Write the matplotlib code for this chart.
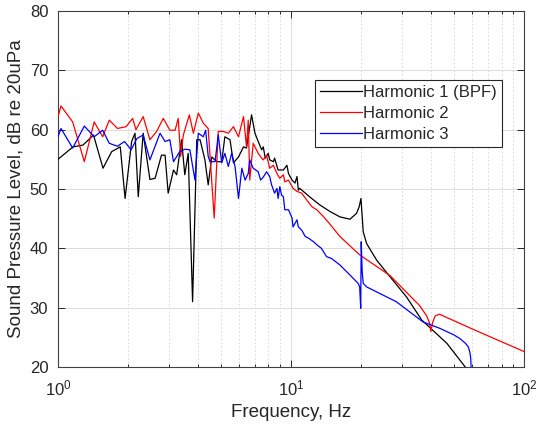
import matplotlib

matplotlib.use("Agg")
import matplotlib.pyplot as plt
from matplotlib.ticker import LogLocator, NullFormatter, MultipleLocator

OUT = "out.png"

# Harmonic 1 (BPF)
F_H1 = [1.0, 1.16, 1.28, 1.42, 1.56, 1.70, 1.85, 1.94, 2.07, 2.14, 2.21, 2.32,
        2.48, 2.61, 2.78, 2.88, 2.97, 3.13, 3.23, 3.39, 3.50, 3.62, 3.78, 3.94,
        4.07, 4.27, 4.41, 4.57, 4.80, 5.04, 5.20, 5.47, 5.66, 5.95, 6.25, 6.44,
        6.77, 7.0, 7.23, 7.48, 7.6, 7.75, 7.98, 8.1, 8.4, 8.5, 8.8, 9.27, 9.6,
        9.75, 10.1, 10.4, 10.6, 10.75, 10.9, 12.0, 13.3, 14.7, 16.2, 17.9, 19.1,
        19.6, 19.95, 20.2, 20.4, 21.1, 23.3, 26.6, 31.3, 36.4, 46.6, 55.9, 60.0]
DB_H1 = [55.0, 57.1, 57.4, 59.1, 53.5, 56.3, 57.1, 48.4, 58.0, 59.4, 48.7, 59.4,
         51.6, 51.8, 55.7, 55.7, 49.3, 53.2, 52.4, 58.3, 52.4, 56.0, 31.0, 58.3,
         58.3, 54.9, 50.7, 55.4, 54.6, 54.6, 58.8, 58.3, 54.4, 55.4, 57.1, 56.9,
         62.5, 59.4, 58.0, 56.6, 57.1, 55.2, 56.0, 54.9, 54.6, 55.2, 53.2, 53.2, 54.0,
         52.6, 51.5, 51.0, 52.1, 49.8, 50.1, 48.7, 47.3, 46.2, 45.3, 44.9, 45.9,
         47.0, 48.4, 45.3, 42.8, 40.8, 38.0, 35.2, 31.8, 27.9, 24.0, 20.0, 17.0]

# Harmonic 2
F_H2 = [1.0, 1.03, 1.156, 1.297, 1.43, 1.555, 1.66, 1.80, 1.96, 2.09, 2.16, 2.32,
        2.48, 2.65, 2.83, 3.02, 3.18, 3.28, 3.36, 3.45, 3.66, 3.81, 4.0, 4.2,
        4.41, 4.68, 4.87, 5.12, 5.38, 5.66, 5.95, 6.25, 6.44, 6.55, 6.65, 6.88,
        7.23, 7.48, 7.6, 7.85, 8.1, 8.4, 8.7, 8.95, 9.27, 9.4, 9.75, 10.2, 10.6,
        11.1, 11.7, 12.3, 12.9, 13.8, 14.6, 16.2, 19.7, 26.6, 35.7, 38.2, 39.3,
        39.8, 40.5, 41.5, 43.3, 60.0, 100.0]
DB_H2 = [62.2, 64.0, 61.3, 54.6, 61.3, 58.8, 61.6, 60.2, 60.5, 61.9, 60.0, 62.2,
         58.3, 59.7, 61.9, 59.9, 59.9, 61.9, 55.5, 59.1, 62.5, 59.4, 62.8, 61.1,
         60.2, 45.1, 59.7, 59.7, 59.4, 60.5, 58.8, 62.2, 57.1, 61.6, 51.5, 57.7,
         56.0, 55.2, 54.9, 55.7, 53.5, 54.0, 52.6, 51.8, 52.4, 51.2, 51.5, 50.1, 49.6,
         49.3, 48.1, 47.0, 46.5, 45.3, 44.2, 42.0, 38.9, 35.4, 30.3, 28.6, 27.4,
         26.0, 27.5, 28.6, 28.9, 26.4, 22.6]

# Harmonic 3
F_H3 = [1.0, 1.03, 1.156, 1.297, 1.43, 1.555, 1.66, 1.80, 1.93, 2.06, 2.18, 2.32,
        2.48, 2.74, 2.88, 3.02, 3.13, 3.33, 3.50, 3.68, 3.87, 4.0, 4.2, 4.3,
        4.41, 4.49, 4.72, 4.87, 5.04, 5.20, 5.38, 5.56, 5.75, 5.95, 6.15, 6.35,
        6.55, 6.65, 6.88, 7.23, 7.4, 7.6, 7.85, 8.1, 8.25, 8.5, 8.7, 8.8, 8.95,
        9.1, 9.27, 9.4, 9.75, 10.1, 10.2, 10.6, 10.75, 11.1, 11.5, 11.9, 12.5,
        12.9, 13.5, 14.2, 14.9, 16.2, 17.9, 19.4, 19.7, 19.9, 20.0, 20.2, 20.4,
        21.1, 24.0, 28.3, 36.8, 43.6, 50.0, 53.0, 56.0, 57.6, 58.5, 59.0, 59.3, 60.0]
DB_H3 = [58.8, 60.2, 56.9, 60.6, 58.8, 59.9, 57.7, 57.2, 58.0, 56.6, 58.5, 59.1,
         54.9, 59.4, 58.0, 58.3, 54.6, 56.3, 56.7, 56.6, 51.5, 59.4, 58.8, 59.9,
         55.5, 54.6, 54.6, 59.1, 54.4, 56.0, 53.8, 56.0, 53.8, 48.4, 53.5, 51.5,
         52.6, 54.9, 53.5, 52.9, 51.5, 52.0, 52.9, 52.1, 50.7, 49.3, 50.1, 48.4, 50.4,
         49.0, 48.7, 46.5, 46.5, 45.1, 43.6, 44.8, 43.6, 43.1, 42.0, 41.7, 41.1,
         40.6, 40.0, 38.6, 38.3, 37.2, 35.5, 34.1, 33.5, 29.9, 41.1, 36.0, 34.1,
         33.5, 32.4, 31.0, 27.6, 26.5, 25.4, 24.8, 24.0, 23.4, 22.5, 21.5, 19.5, 18.0]

LABELS = ["Harmonic 1 (BPF)", "Harmonic 2", "Harmonic 3"]
COLORS = ["#000000", "#ff0000", "#0000ff"]

TXT = "#262626"

plt.rcParams.update({
    "font.family": ["Liberation Sans", "DejaVu Sans"],
    "mathtext.fontset": "custom",
    "mathtext.rm": "Liberation Sans",
    "mathtext.default": "regular",
})

fig = plt.figure(figsize=(5.37, 4.30), dpi=100)
ax = fig.add_axes([0.108, 0.1465, 0.868, 0.828])

for f, db, lab, c in zip([F_H1, F_H2, F_H3], [DB_H1, DB_H2, DB_H3], LABELS, COLORS):
    ax.plot(f, db, color=c, lw=0.9, label=lab, zorder=3)

ax.set_xscale("log")
ax.set_xlim(1, 100)
ax.set_ylim(20, 80)
ax.yaxis.set_major_locator(MultipleLocator(10))
ax.xaxis.set_major_locator(LogLocator(base=10))
ax.xaxis.set_minor_locator(LogLocator(base=10, subs=range(2, 10)))
ax.xaxis.set_minor_formatter(NullFormatter())

ax.grid(True, which="major", axis="both", color="#dcdcdc", lw=0.7, ls="-", zorder=0)
ax.grid(True, which="minor", axis="x", color="#d6d6d6", lw=0.7, ls=(0, (1.5, 2.5)), zorder=0)

ax.tick_params(which="both", direction="in", top=True, right=True, colors=TXT,
               labelcolor=TXT, labelsize=12, width=0.7)
ax.tick_params(which="major", length=5, pad=7)
ax.tick_params(which="minor", length=2.5)
ax.tick_params(axis="x", which="major", pad=8)
for s in ax.spines.values():
    s.set_color("#404040")
    s.set_linewidth(0.8)

ax.set_xlabel("Frequency, Hz", fontsize=13.5, color=TXT, labelpad=4)
ax.set_ylabel("Sound Pressure Level, dB re 20uPa", fontsize=13.5, color=TXT, labelpad=4)

leg = ax.legend(loc="upper right", bbox_to_anchor=(0.953, 0.806), borderaxespad=0,
                fontsize=12, fancybox=False, framealpha=1, edgecolor="#262626",
                handlelength=2.5, handletextpad=0.1, borderpad=0.3, labelspacing=0.35)
leg.get_frame().set_linewidth(0.8)
for t in leg.get_texts():
    t.set_color(TXT)

fig.savefig(OUT, dpi=100)
